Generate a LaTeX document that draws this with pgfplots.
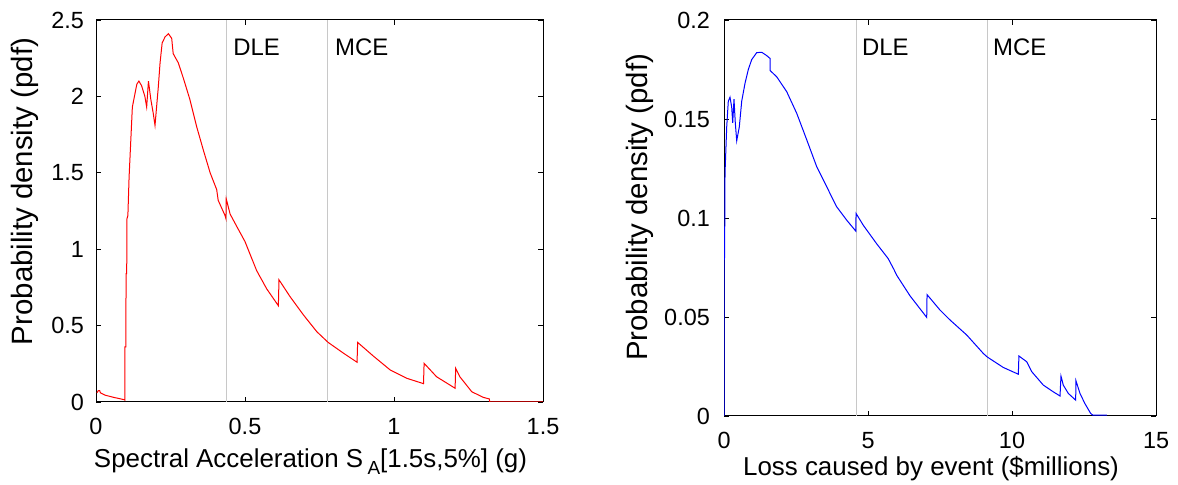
\documentclass[border=0pt]{standalone}
\usepackage{pgfplots}
\pgfplotsset{compat=1.18}
\usepackage{fontspec}
\setmainfont{Liberation Sans}
\definecolor{vgray}{RGB}{200,200,200}
\pgfplotsset{
  mystyle/.style={
    scale only axis,
    axis line style={black, line width=1bp},
    tick style={black, line width=0.8bp},
    major tick length=5bp,
    tick align=inside,
    /pgf/number format/assume math mode=true,
    scaled ticks=false,
    ticklabel style={font=\fontsize{23.5}{27}\selectfont},
    yticklabel style={anchor=east, inner sep=0pt, xshift=-12bp,
      /pgf/number format/fixed, /pgf/number format/precision=2},
    xticklabel style={anchor=north, inner sep=0pt, yshift=-16bp,
      /pgf/number format/fixed},
    xlabel style={font=\fontsize{26}{30}\selectfont},
    ylabel style={font=\fontsize{29.5}{33}\selectfont},
    clip=true,
  }
}
\begin{document}
\begin{tikzpicture}[x=1bp,y=1bp]
\useasboundingbox (0,0) rectangle (1178,485);
% ---------------- Left axis ----------------
\begin{axis}[mystyle,
  at={(96bp,83bp)}, anchor=south west,
  width=447bp, height=382bp,
  xmin=0, xmax=1.5, ymin=0, ymax=2.5,
  xtick={0,0.5,1,1.5}, ytick={0,0.5,1,1.5,2,2.5},
  xlabel={Spectral Acceleration S\,\raisebox{-0.45ex}{\fontsize{19}{22}\selectfont A}[1.5s,5\%] (g)},
  ylabel={Probability density (pdf)},
  xlabel style={at={(axis description cs:0.5,0)}, anchor=base, yshift=-66bp, xshift=-9bp},
  ylabel style={at={(axis description cs:-0.159,0.551)}, anchor=center},
]
\addplot[vgray, line width=0.8bp] coordinates {(0.436,0) (0.436,2.5)};
\addplot[vgray, line width=0.8bp] coordinates {(0.778,0) (0.778,2.5)};
\addplot[red, line width=1bp] coordinates {
(0.003,0.060) (0.008,0.075) (0.012,0.075) (0.015,0.060) (0.03,0.045)
(0.06,0.030) (0.095,0.015) (0.097,0.012) (0.097,0.36) (0.100,0.36)
(0.101,0.84) (0.103,0.84) (0.104,1.20) (0.107,1.22)
(0.111,1.47) (0.116,1.68) (0.122,1.93) (0.129,2.00) (0.137,2.08)
(0.144,2.10) (0.153,2.07) (0.164,2.00) (0.170,1.93) (0.176,2.10)
(0.184,1.98) (0.192,1.89) (0.198,1.81) (0.209,2.06) (0.215,2.22)
(0.222,2.35) (0.232,2.39) (0.243,2.41) (0.254,2.38) (0.259,2.28)
(0.276,2.22) (0.293,2.12) (0.315,1.98) (0.338,1.80) (0.360,1.65)
(0.383,1.50) (0.405,1.39) (0.410,1.32) (0.433,1.22) (0.436,1.20)
(0.437,1.33) (0.450,1.23) (0.472,1.15) (0.500,1.05) (0.539,0.86)
(0.573,0.74) (0.612,0.63) (0.614,0.80) (0.651,0.69) (0.696,0.57)
(0.741,0.46) (0.779,0.39) (0.830,0.32) (0.876,0.26) (0.878,0.39)
(0.931,0.30) (0.987,0.21) (1.043,0.155) (1.099,0.12) (1.101,0.253)
(1.143,0.165) (1.205,0.09) (1.207,0.22) (1.221,0.165) (1.261,0.067)
(1.300,0.03) (1.320,0.02) (1.321,0.0) (1.5,0.0)
};
\node[anchor=base west, inner sep=0pt, font=\fontsize{24}{28}\selectfont] at (axis cs:0.460,2.27) {DLE};
\node[anchor=base west, inner sep=0pt, font=\fontsize{24}{28}\selectfont] at (axis cs:0.802,2.27) {MCE};
\end{axis}
% ---------------- Right axis ----------------
\begin{axis}[mystyle,
  at={(724bp,69bp)}, anchor=south west,
  width=432bp, height=396bp,
  xmin=0, xmax=15, ymin=0, ymax=0.2,
  xtick={0,5,10,15}, ytick={0,0.05,0.1,0.15,0.2},
  xlabel={Loss caused by event (\$millions)},
  ylabel={Probability density (pdf)},
  xlabel style={at={(axis description cs:0.5,0)}, anchor=base, yshift=-60bp, xshift=-9bp},
  ylabel style={at={(axis description cs:-0.194,0.527)}, anchor=center},
  yticklabel style={xshift=-2bp},
]
\addplot[vgray, line width=0.8bp] coordinates {(4.61,0) (4.61,0.2)};
\addplot[vgray, line width=0.8bp] coordinates {(9.14,0) (9.14,0.2)};
\addplot[blue, line width=1bp] coordinates {
(0.0,0.0) (0.0,0.078) (0.02,0.080) (0.035,0.1227) (0.094,0.146)
(0.149,0.159) (0.208,0.161) (0.267,0.156) (0.302,0.148) (0.347,0.160)
(0.392,0.148) (0.441,0.139) (0.531,0.146) (0.615,0.159) (0.729,0.168)
(0.844,0.175) (0.962,0.180) (1.135,0.1835) (1.309,0.1837) (1.483,0.182)
(1.597,0.1806) (1.600,0.1745) (1.83,0.1713) (2.177,0.1638) (2.524,0.1529)
(2.872,0.1395) (3.219,0.1259) (3.566,0.1158) (3.795,0.109) (3.91,0.1057)
(4.26,0.0989) (4.575,0.0934) (4.585,0.1023) (4.837,0.0963) (5.30,0.0870)
(5.70,0.0795) (5.90,0.0740) (6.00,0.0710) (6.458,0.0607) (7.038,0.0498)
(7.05,0.0613) (7.50,0.0535) (7.847,0.0485) (8.427,0.0409) (9.003,0.0316)
(9.14,0.0298) (9.698,0.0245) (10.219,0.0211) (10.24,0.0303) (10.51,0.0274)
(10.684,0.0224) (11.087,0.0156) (11.434,0.0122) (11.667,0.0101) (11.70,0.0202)
(11.78,0.0156) (11.955,0.0114) (12.21,0.0080) (12.22,0.0178) (12.36,0.0114)
(12.53,0.0063) (12.73,0.0013) (12.80,0.0005) (13.29,0.0005)
};
\node[anchor=base west, inner sep=0pt, font=\fontsize{24}{28}\selectfont] at (axis cs:4.79,0.1823) {DLE};
\node[anchor=base west, inner sep=0pt, font=\fontsize{24}{28}\selectfont] at (axis cs:9.34,0.1823) {MCE};
\end{axis}
\end{tikzpicture}
\end{document}
